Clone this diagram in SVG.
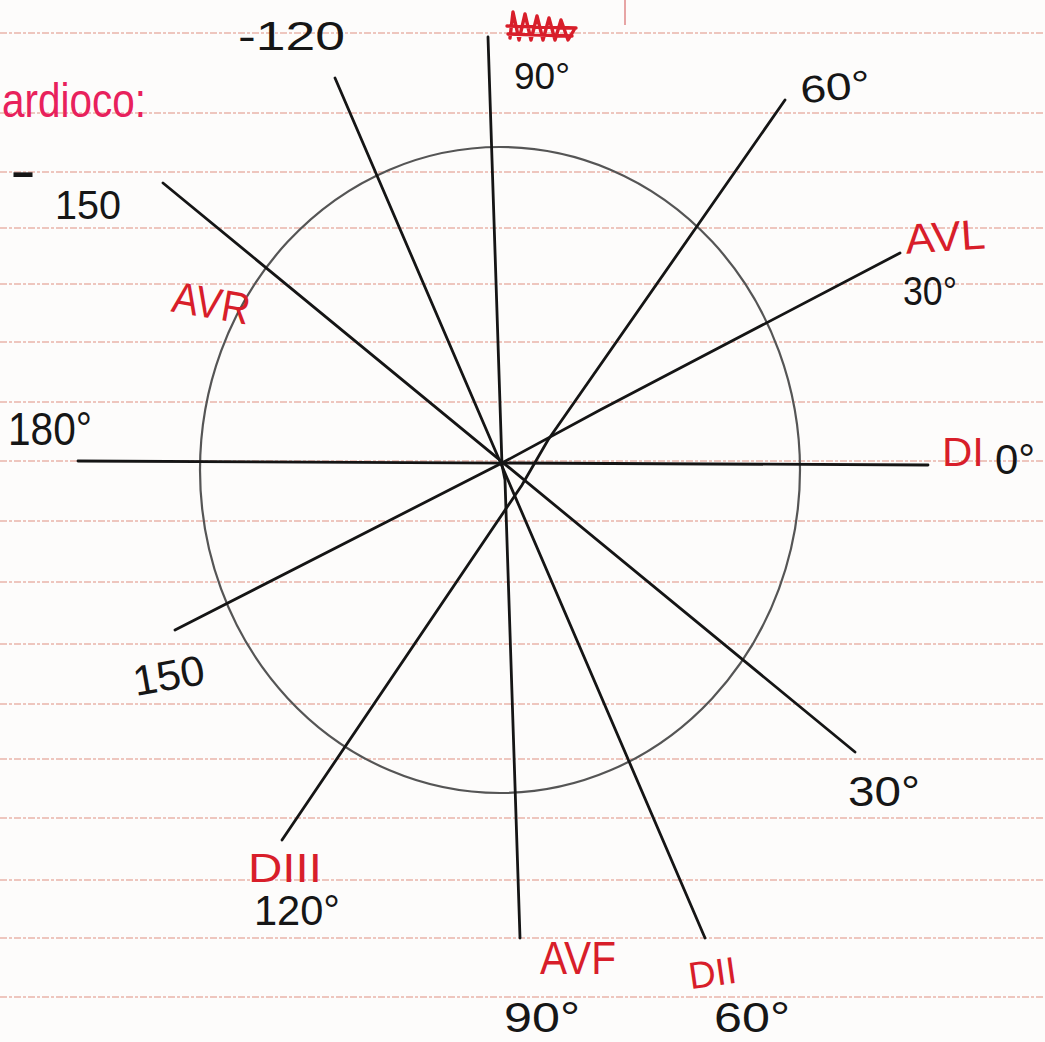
<svg xmlns="http://www.w3.org/2000/svg" width="1045" height="1042" viewBox="0 0 1045 1042">
<style>
.rule{stroke:#e9b4aa;stroke-width:1.6;stroke-dasharray:7 2 3 2;fill:none}
.ln{stroke:#151515;stroke-width:2.8;stroke-linecap:round;fill:none}
.circ{stroke:#555;stroke-width:2.2;fill:none}
text{font-family:"Liberation Sans","DejaVu Sans",sans-serif}
.t{fill:#161616}
.r{fill:#d81e2a}
.pk{fill:#e8215c}
</style>
<rect x="0" y="0" width="1045" height="1042" fill="#fdfcfb"/>
<g id="paper">
<path class="rule" d="M0,33H1045M0,113H1045M0,172H1045M0,228H1045M0,284H1045M0,342H1045M0,402H1045M0,461H1045M0,521H1045M0,582H1045M0,644H1045M0,704H1045M0,759H1045M0,818H1045M0,880H1045M0,938H1045M0,997H1045"/>
<line x1="625" y1="0" x2="625" y2="25" stroke="#e7a5a5" stroke-width="2"/>
</g>
<g id="circle">
<ellipse class="circ" cx="500" cy="470" rx="300" ry="323"/>
</g>
<g id="connectors">
<line class="ln" x1="78" y1="461" x2="928" y2="465"/>
<line class="ln" x1="488" y1="37" x2="502" y2="465"/>
<polyline class="ln" points="502,465 505,480 520,938"/>
<line class="ln" x1="335" y1="78" x2="705" y2="938"/>
<line class="ln" x1="163" y1="183" x2="855" y2="752"/>
<polyline class="ln" points="785,100 548,440 522,485 282,840"/>
<polyline class="ln" points="900,253 600,410 502,463 175,630"/>
</g>
<g id="labels">
<text class="pk" x="2" y="117" font-size="48" textLength="144" lengthAdjust="spacingAndGlyphs">ardioco:</text>
<text class="t" x="238" y="50" font-size="40" textLength="107" lengthAdjust="spacingAndGlyphs">-120</text>
<path d="M510,38 L513,12 L519,40 L525,14 L531,40 L537,16 L543,40 L549,18 L555,40 L561,20 L568,40 L574,30 M507,26 L576,28 M508,34 L572,36" stroke="#d81e2a" stroke-width="3.4" fill="none" stroke-linejoin="round" stroke-linecap="round"/>
<text class="t" x="514" y="89" font-size="36" textLength="56" lengthAdjust="spacingAndGlyphs">90°</text>
<text class="t" x="800" y="100" font-size="38" textLength="70" lengthAdjust="spacingAndGlyphs" transform="rotate(-6 835 85)">60°</text>
<text class="r" x="905" y="251" font-size="42" textLength="80" lengthAdjust="spacingAndGlyphs" transform="rotate(-4 945 233)">AVL</text>
<text class="t" x="903" y="305" font-size="40" textLength="54" lengthAdjust="spacingAndGlyphs">30°</text>
<text class="r" x="942" y="466" font-size="40" textLength="42" lengthAdjust="spacingAndGlyphs">DI</text>
<text class="t" x="995" y="474" font-size="42">0°</text>
<text class="t" x="8" y="445" font-size="46" textLength="84" lengthAdjust="spacingAndGlyphs">180°</text>
<text class="t" x="10" y="190" font-size="60" textLength="26" lengthAdjust="spacingAndGlyphs">-</text>
<text class="t" x="55" y="219" font-size="40" textLength="66" lengthAdjust="spacingAndGlyphs">150</text>
<text class="r" x="172" y="318" font-size="44" textLength="78" lengthAdjust="spacingAndGlyphs" transform="rotate(10 210 305)">AVR</text>
<text class="t" x="132" y="690" font-size="42" textLength="72" lengthAdjust="spacingAndGlyphs" transform="rotate(-10 168 672)">150</text>
<text class="t" x="848" y="806" font-size="42" textLength="72" lengthAdjust="spacingAndGlyphs">30°</text>
<text class="r" x="248" y="882" font-size="40" textLength="74" lengthAdjust="spacingAndGlyphs">DIII</text>
<text class="t" x="254" y="925" font-size="42" textLength="86" lengthAdjust="spacingAndGlyphs">120°</text>
<text class="r" x="540" y="974" font-size="46" textLength="76" lengthAdjust="spacingAndGlyphs">AVF</text>
<text class="r" x="688" y="986" font-size="38" textLength="48" lengthAdjust="spacingAndGlyphs" transform="rotate(-8 712 970)">DII</text>
<text class="t" x="504" y="1032" font-size="42" textLength="76" lengthAdjust="spacingAndGlyphs">90°</text>
<text class="t" x="714" y="1032" font-size="42" textLength="76" lengthAdjust="spacingAndGlyphs">60°</text>
</g>
</svg>
